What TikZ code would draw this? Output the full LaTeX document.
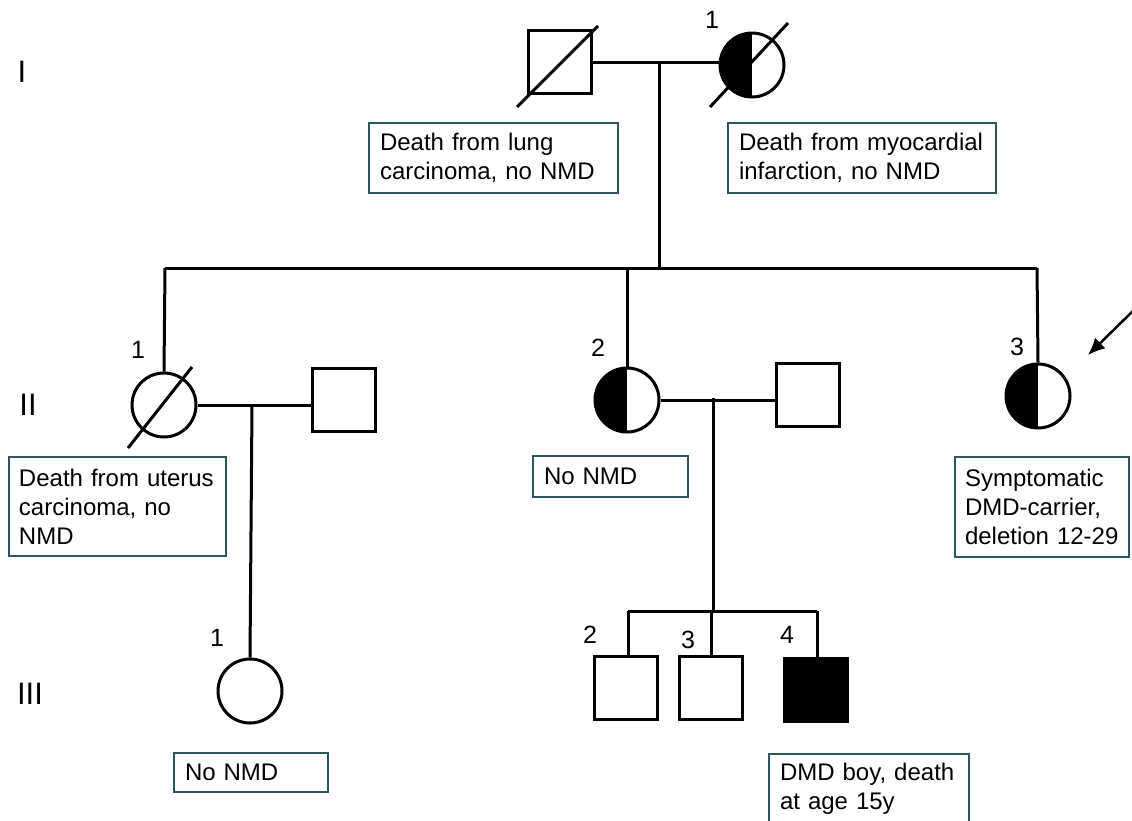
\documentclass[tikz,border=0pt]{standalone}
\usepackage{fontspec}
\setmainfont{Liberation Sans}
\usetikzlibrary{arrows.meta}

\definecolor{notecol}{RGB}{47,84,98}

\tikzset{
  person/.style={draw, line width=3pt, inner sep=0pt},
  male/.style={person, rectangle, minimum size=63pt},
  female/.style={person, circle, minimum size=64pt},
  carrier/.style={path picture={\fill (path picture bounding box.north) rectangle (path picture bounding box.south west);}},
  affected/.style={fill=black},
  link/.style={line width=3pt},
  slash/.style={line width=3pt},
  note/.style={draw=notecol, line width=2pt, align=left, inner xsep=11pt, inner ysep=0pt,
    font=\fontsize{24}{29}\selectfont},
  nr/.style={font=\fontsize{25}{25}\selectfont, inner sep=0pt},
  gen/.style={font=\fontsize{31}{31}\selectfont, inner sep=0pt}
}

\begin{document}
\begin{tikzpicture}[x=1pt, y=-1pt]
    \useasboundingbox (0,0) rectangle (1132,820);

    % generations
    \node[gen] (g1) at (22,72) {I};
    \node[gen] (g2) at (28,405) {II};
    \node[gen] (g3) at (30,694) {III};

    % generation I
    \node[male] (i1) at (560,62) {};
    \node[female, carrier] (i2) at (752,65) {};
    \node[nr] (n-i2) at (712,20) {1};
    \draw[slash] ([shift={(-43,45)}]i1.center) -- ([shift={(38,-36)}]i1.center);
    \draw[slash] ([shift={(-42,42)}]i2.center) -- ([shift={(36,-42)}]i2.center);
    \coordinate (i12) at (659,62);
    \draw[link] (i1.east) -- (i1.east -| i2.west);

    \node[note, minimum width=249pt, minimum height=70pt, text width=227pt] (t-i1) at (493.5,158)
        {Death from lung\\carcinoma, no NMD};
    \node[note, minimum width=268pt, minimum height=70pt, text width=246pt] (t-i2) at (862,158)
        {Death from myocardial\\infarction, no NMD};

    % sibship II
    \coordinate (s2l) at (165,268);
    \coordinate (s2m) at (659,268);
    \coordinate (s2r) at (1037,268);
    \draw[link] (i12) -- (s2m);
    \draw[link] (s2l) -- (s2r);

    % generation II
    \node[female] (ii1) at (164,405) {};
    \node[male] (ii1s) at (344,400) {};
    \node[nr] (n-ii1) at (138,350) {1};
    \draw[slash] ([shift={(-36,43)}]ii1.center) -- ([shift={(28,-38)}]ii1.center);
    \draw[link] (s2l) -- (ii1.north);
    \draw[link] (ii1.east) -- (ii1.east -| ii1s.west);
    \coordinate (ii1m) at (252,405);

    \node[female, carrier] (ii2) at (627,400) {};
    \node[male] (ii2s) at (808,395) {};
    \node[nr] (n-ii2) at (598,348) {2};
    \draw[link] (s2m -| ii2.north) -- (ii2.north);
    \draw[link] (ii2.east) -- (ii2.east -| ii2s.west);
    \coordinate (ii2m) at (713,398);

    \node[female, carrier] (ii3) at (1038,396) {};
    \node[nr] (n-ii3) at (1017,347) {3};
    \draw[link] (s2r) -- (ii3.north);
    \coordinate (pstart) at (1136,308);
    \coordinate (ptip) at (1088,355);
    \draw[line width=2.5pt, -{Latex[length=17pt,width=15pt]}] (pstart) -- (ptip);

    \node[note, minimum width=217pt, minimum height=99pt, text width=197pt, inner xsep=10pt] (t-ii1) at (117.5,506.5)
        {Death from uterus\\carcinoma, no\\NMD};
    \node[note, minimum width=155pt, minimum height=41pt, text width=133pt] (t-ii2) at (610.5,476.5)
        {No NMD};
    \node[note, minimum width=174pt, minimum height=100pt, text width=154pt, inner xsep=10pt] (t-ii3) at (1042,507)
        {Symptomatic\\DMD-carrier,\\deletion 12-29};

    % generation III
    \node[female] (iii1) at (250,691) {};
    \node[nr] (n-iii1) at (217,638) {1};
    \draw[link] (ii1m) -- (iii1.north);
    \node[note, minimum width=154pt, minimum height=39pt, text width=132pt] (t-iii1) at (251,772.5)
        {No NMD};

    \coordinate (s3l) at (628,611);
    \coordinate (s3r) at (817,611);
    \draw[link] (ii2m) -- (ii2m |- s3l);
    \draw[link] (s3l) -- (s3r);

    \node[male] (iii2) at (626,688) {};
    \node[male] (iii3) at (711,688) {};
    \node[male, affected] (iii4) at (816,690) {};
    \node[nr] (n-iii2) at (590,635) {2};
    \node[nr] (n-iii3) at (688,640) {3};
    \node[nr] (n-iii4) at (787,635) {4};
    \draw[link] (s3l) -- (s3l |- iii2.north);
    \draw[link] (s3l -| iii3.north) -- (iii3.north);
    \draw[link] (s3r) -- (s3r |- iii4.north);

    \node[note, minimum width=200pt, minimum height=70pt, text width=178pt] (t-iii4) at (869,789)
        {DMD boy, death\\at age 15y};
\end{tikzpicture}
\end{document}
